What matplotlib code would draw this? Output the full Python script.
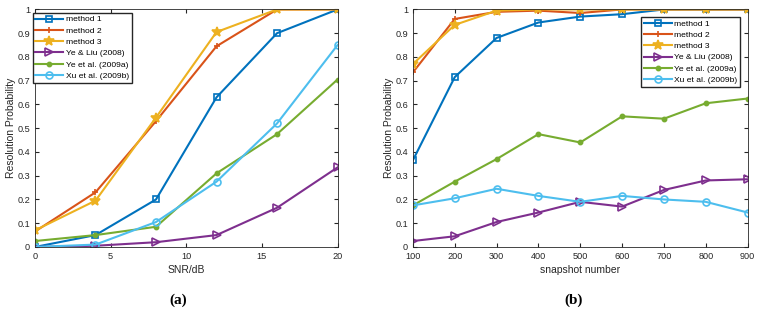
import matplotlib.pyplot as plt

plt.rcParams['font.family'] = ['Liberation Sans', 'DejaVu Sans']

snr = [0, 4, 8, 12, 16, 20]
snr_m1 = [0, 0.05, 0.2, 0.63, 0.9, 1.0]
snr_m2 = [0.065, 0.23, 0.53, 0.845, 1.0, 1.0]
snr_m3 = [0.07, 0.195, 0.545, 0.905, 1.0, 1.0]
snr_yeliu = [0, 0.005, 0.02, 0.05, 0.165, 0.335]
snr_ye09 = [0.025, 0.05, 0.085, 0.31, 0.475, 0.705]
snr_xu = [0, 0.01, 0.105, 0.275, 0.52, 0.85]

snap = [100, 200, 300, 400, 500, 600, 700, 800, 900]
snap_m1 = [0.365, 0.715, 0.88, 0.945, 0.97, 0.98, 1, 1, 1]
snap_m2 = [0.735, 0.96, 0.99, 0.995, 0.985, 1, 1, 1, 1]
snap_m3 = [0.77, 0.935, 0.995, 1, 1, 1, 1, 1, 1]
snap_yeliu = [0.025, 0.045, 0.105, 0.145, 0.19, 0.17, 0.24, 0.28, 0.285]
snap_ye09 = [0.175, 0.275, 0.37, 0.475, 0.44, 0.55, 0.54, 0.605, 0.625]
snap_xu = [0.175, 0.205, 0.245, 0.215, 0.19, 0.215, 0.2, 0.19, 0.145]

labels = ['method 1', 'method 2', 'method 3', 'Ye & Liu (2008)',
          'Ye et al. (2009a)', 'Xu et al. (2009b)']
colors = ['#0072BD', '#D95319', '#EDB120', '#7E2F8E', '#77AC30', '#4DBEEE']
markers = ['s', '+', '*', '>', 'o', 'o']
msizes = [4.5, 5, 7, 6, 3, 5]
filled = [False, True, True, False, True, False]

fig = plt.figure(figsize=(7.59, 3.15), dpi=100)
ax1 = fig.add_axes([0.0461, 0.216, 0.3986, 0.754])
ax2 = fig.add_axes([0.544, 0.216, 0.441, 0.754])

leg_kw = dict(fontsize=6.1, fancybox=False, edgecolor='#262626', borderaxespad=0,
              handlelength=3.3, labelspacing=0.4, borderpad=0.3,
              handletextpad=0.3, framealpha=1)


def draw(ax, x, series):
    for y, lab, c, m, ms, f in zip(series, labels, colors, markers, msizes, filled):
        ax.plot(x, y, color=c, marker=m, markersize=ms, lw=1.5, label=lab,
                markerfacecolor=c if f else 'none', markeredgewidth=1.2)
    ax.set_ylim(0, 1)
    ax.set_yticks([i / 10 for i in range(11)])
    ax.set_yticklabels(['0'] + ['%.1f' % (i / 10) for i in range(1, 10)] + ['1'])
    ax.tick_params(direction='in', labelsize=6.6, top=True, right=True, length=3,
                   color='#262626', labelcolor='#262626')
    for s in ax.spines.values():
        s.set_color('#262626')
        s.set_linewidth(0.6)
    ax.set_ylabel('Resolution Probability', fontsize=7.5, color='#262626', labelpad=1)


draw(ax1, snr, [snr_m1, snr_m2, snr_m3, snr_yeliu, snr_ye09, snr_xu])
ax1.set_xlim(0, 20)
ax1.set_xticks([0, 5, 10, 15, 20])
ax1.set_xlabel('SNR/dB', fontsize=7.5, color='#262626', labelpad=3)
ax1.legend(loc='upper left', bbox_to_anchor=(-0.007, 0.985), **leg_kw)

draw(ax2, snap, [snap_m1, snap_m2, snap_m3, snap_yeliu, snap_ye09, snap_xu])
ax2.set_xlim(100, 900)
ax2.set_xticks(snap)
ax2.set_xlabel('snapshot number', fontsize=7.5, color='#262626', labelpad=3)
ax2.legend(loc='upper right', bbox_to_anchor=(0.977, 0.968), **leg_kw)

fig.text(0.235, 0.048, '(a)', ha='center', va='center', fontsize=11,
         fontweight='bold', family='Liberation Serif')
fig.text(0.756, 0.048, '(b)', ha='center', va='center', fontsize=11,
         fontweight='bold', family='Liberation Serif')

fig.savefig('out.png', dpi=100)
